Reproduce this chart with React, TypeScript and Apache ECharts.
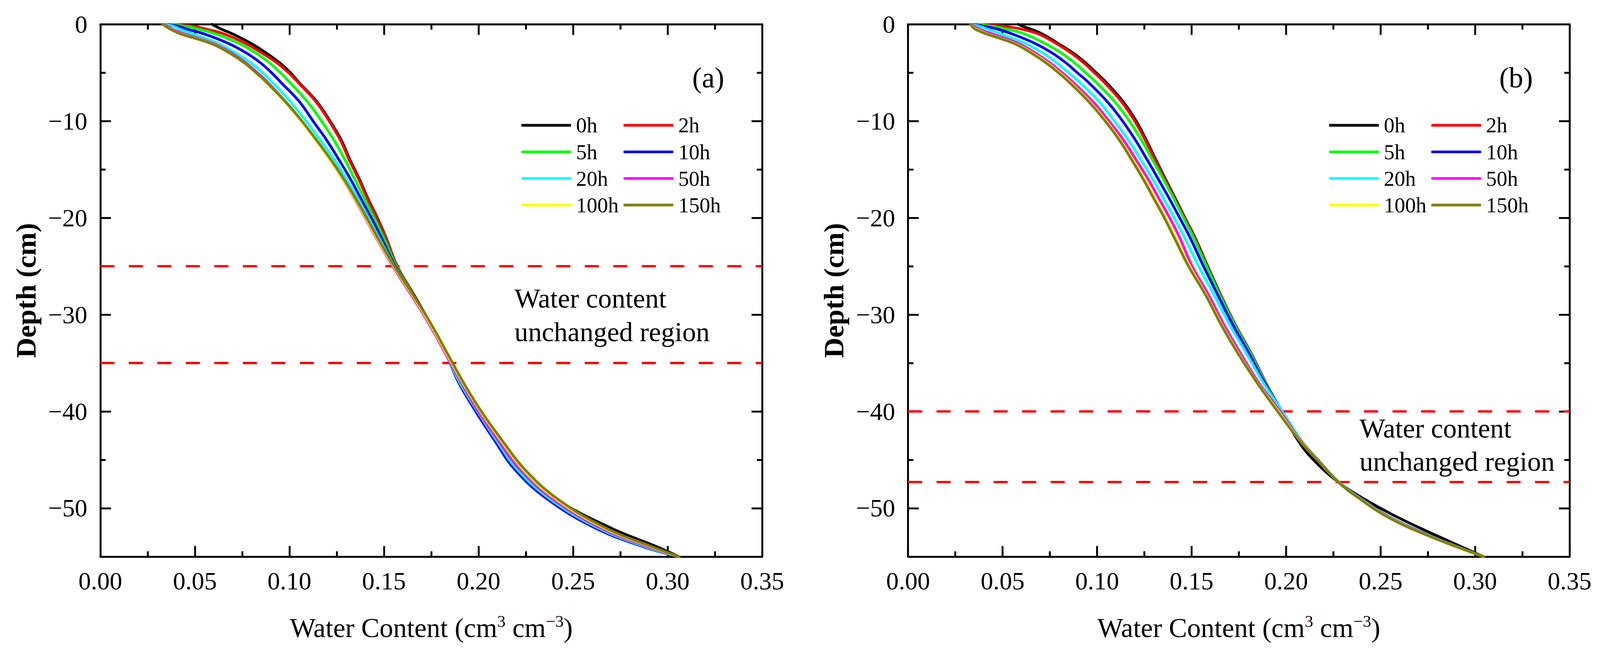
import React, { useEffect, useRef } from "react";
import * as echarts from "echarts";

// ---------- data ----------
const timeLabels = ["0h", "2h", "5h", "10h", "20h", "50h", "100h", "150h"];
const lineColors = ["#000000", "#ff0000", "#00ff00", "#0000ff", "#00ffff", "#ff00ff", "#ffff00", "#808000"];

// panel (a): depth (cm) and water content (cm3 cm-3)
const depthA = [0, -0.2, -0.5, -1, -2, -3, -4, -5, -6, -8, -10, -12, -14, -16, -18, -20, -22, -25, -28, -31, -34, -37, -40, -43, -46, -49, -52, -54, -55];
const a0h = [0.059, 0.061, 0.064, 0.07, 0.08, 0.088, 0.095, 0.1005, 0.105, 0.1145, 0.1215, 0.1275, 0.132, 0.137, 0.1415, 0.1465, 0.151, 0.157, 0.166, 0.1748, 0.1828, 0.1895, 0.199, 0.2095, 0.2215, 0.2405, 0.2695, 0.2945, 0.306];
const a2h = [0.034, 0.049, 0.056, 0.0655, 0.077, 0.0857, 0.0935, 0.0995, 0.1045, 0.114, 0.121, 0.127, 0.1316, 0.1366, 0.1412, 0.1462, 0.1508, 0.1568, 0.1657, 0.1746, 0.1829, 0.1903, 0.1988, 0.2088, 0.2195, 0.2363, 0.2618, 0.288, 0.306];
const a5h = [0.033, 0.045, 0.052, 0.061, 0.0735, 0.0825, 0.0895, 0.0952, 0.1002, 0.1095, 0.117, 0.1236, 0.1293, 0.1345, 0.1396, 0.1448, 0.1497, 0.1565, 0.1655, 0.1745, 0.1828, 0.19, 0.1987, 0.2087, 0.2193, 0.2362, 0.2616, 0.2878, 0.306];
const a10h = [0.033, 0.041, 0.046, 0.055, 0.068, 0.0775, 0.0848, 0.0905, 0.0955, 0.1053, 0.1125, 0.1198, 0.1262, 0.1323, 0.1378, 0.1433, 0.1485, 0.156, 0.1652, 0.1743, 0.1826, 0.1895, 0.1985, 0.2085, 0.2192, 0.236, 0.2613, 0.2875, 0.306];
const a20h = [0.033, 0.0385, 0.042, 0.049, 0.0625, 0.0718, 0.0797, 0.0857, 0.091, 0.1005, 0.1088, 0.1165, 0.1238, 0.1302, 0.1362, 0.1418, 0.1472, 0.1556, 0.1651, 0.1742, 0.1825, 0.19, 0.1995, 0.2095, 0.2205, 0.2375, 0.2628, 0.2885, 0.306];
const a50h = [0.033, 0.0355, 0.038, 0.0445, 0.06, 0.0695, 0.077, 0.083, 0.0885, 0.098, 0.1065, 0.1142, 0.1215, 0.1282, 0.1343, 0.1401, 0.1457, 0.1547, 0.1645, 0.174, 0.1825, 0.1908, 0.2, 0.2105, 0.222, 0.239, 0.2643, 0.2898, 0.306];
const a100h = [0.033, 0.0345, 0.0372, 0.0428, 0.059, 0.0686, 0.0762, 0.0822, 0.0878, 0.0976, 0.1062, 0.114, 0.1215, 0.1283, 0.1345, 0.1404, 0.146, 0.1551, 0.165, 0.1745, 0.183, 0.1915, 0.201, 0.2118, 0.2235, 0.2405, 0.2658, 0.2912, 0.306];
const a150h = [0.033, 0.0345, 0.037, 0.0425, 0.0588, 0.0686, 0.0763, 0.0824, 0.088, 0.0979, 0.1066, 0.1145, 0.122, 0.1288, 0.135, 0.1409, 0.1465, 0.1555, 0.1655, 0.175, 0.1835, 0.192, 0.2015, 0.2125, 0.2245, 0.2415, 0.2668, 0.292, 0.306];

// panel (b)
const depthB = [0, -0.2, -0.5, -1, -2, -3, -4, -5, -6, -8, -10, -12, -14, -16, -18, -20, -22, -25, -28, -31, -34, -37, -40, -43, -45, -47.3, -49, -51, -53, -55];
const b0h = [0.0583, 0.0605, 0.065, 0.071, 0.0795, 0.0875, 0.094, 0.0995, 0.1048, 0.1138, 0.1207, 0.1261, 0.1311, 0.1362, 0.1414, 0.1465, 0.1517, 0.1585, 0.1655, 0.173, 0.1815, 0.1892, 0.1975, 0.2063, 0.2145, 0.2276, 0.2409, 0.2597, 0.2816, 0.3045];
const b2h = [0.034, 0.05, 0.06, 0.069, 0.0785, 0.0865, 0.093, 0.0985, 0.1038, 0.1129, 0.1199, 0.1255, 0.1307, 0.1358, 0.141, 0.1462, 0.1514, 0.1582, 0.1653, 0.1728, 0.1813, 0.1891, 0.1978, 0.2072, 0.2165, 0.2277, 0.2393, 0.2555, 0.2782, 0.3045];
const b5h = [0.0331, 0.044, 0.052, 0.0616, 0.0725, 0.0813, 0.0881, 0.0939, 0.0995, 0.1093, 0.1171, 0.1235, 0.1293, 0.135, 0.1405, 0.1457, 0.1509, 0.1579, 0.165, 0.1726, 0.1811, 0.1889, 0.1978, 0.2075, 0.2167, 0.2278, 0.2395, 0.2555, 0.2782, 0.3045];
const b10h = [0.0331, 0.04, 0.0473, 0.0551, 0.0674, 0.0765, 0.0836, 0.0895, 0.0954, 0.1054, 0.1135, 0.1204, 0.1265, 0.1324, 0.1382, 0.1437, 0.1491, 0.1563, 0.1639, 0.1717, 0.1804, 0.1885, 0.198, 0.208, 0.2169, 0.2279, 0.2396, 0.2556, 0.2783, 0.3045];
const b20h = [0.0331, 0.0375, 0.042, 0.0492, 0.0623, 0.0714, 0.0787, 0.0849, 0.0908, 0.1011, 0.1092, 0.1167, 0.1232, 0.1294, 0.1352, 0.1408, 0.1462, 0.1537, 0.162, 0.17, 0.179, 0.1878, 0.198, 0.208, 0.2169, 0.2279, 0.2394, 0.2553, 0.2779, 0.3045];
const b50h = [0.0331, 0.035, 0.0375, 0.0445, 0.0586, 0.0676, 0.0752, 0.0815, 0.0873, 0.0978, 0.1063, 0.1141, 0.1206, 0.127, 0.1327, 0.1384, 0.1436, 0.1503, 0.1591, 0.167, 0.1759, 0.1854, 0.1968, 0.2076, 0.2167, 0.2277, 0.2391, 0.2549, 0.2776, 0.3045];
const b100h = [0.0331, 0.034, 0.036, 0.042, 0.0568, 0.066, 0.0737, 0.08, 0.0858, 0.0961, 0.1048, 0.1124, 0.1188, 0.125, 0.1306, 0.1362, 0.1413, 0.149, 0.1578, 0.1658, 0.1748, 0.1847, 0.196, 0.2073, 0.2165, 0.2276, 0.2389, 0.2547, 0.2774, 0.3045];
const b150h = [0.0331, 0.0338, 0.0355, 0.0415, 0.0563, 0.0654, 0.0731, 0.0795, 0.0853, 0.0956, 0.1043, 0.1119, 0.1183, 0.1244, 0.13, 0.1356, 0.1407, 0.1484, 0.1575, 0.1655, 0.1745, 0.1845, 0.1955, 0.2071, 0.2164, 0.2276, 0.2388, 0.2545, 0.2772, 0.3045];

const yMajorTicks = [0, -10, -20, -30, -40, -50];
const yMinorTicks = [-5, -15, -25, -35, -45];
const unchangedA = [-25, -35];
const unchangedB = [-40, -47.3];
const panelTags = ["(a)", "(b)"];
const regionText = "Water content\nunchanged region";
const legendCol1 = ["0h", "5h", "20h", "100h"];
const legendCol2 = ["2h", "10h", "50h", "150h"];

// ---------- layout (reference pixels, scaled to the real viewport) ----------
const W = 4211;
const H = 1719;
const FONT = "'Liberation Serif', 'Times New Roman', serif";
const PANEL_SHIFT = 2126;

function viewScale(): number {
  if (typeof window === "undefined") return 1;
  const w = window.innerWidth || W;
  const h = window.innerHeight || H;
  const s = Math.min(w / W, h / H);
  return s > 0 ? s : 1;
}

export default function App() {
  const ref = useRef<HTMLDivElement>(null);
  const s = viewScale();

  useEffect(() => {
    const P = (v: number) => v * s;
    const chart = echarts.init(ref.current as HTMLDivElement, null, { renderer: "svg", width: W * s, height: H * s });

    const tickLine = { color: "#000", width: P(5) };
    const grids = [
      { left: P(264), top: P(64), width: P(1742), height: P(1402) },
      { left: P(2390), top: P(64), width: P(1741), height: P(1402) },
    ];

    const xAxes: any[] = [];
    const yAxes: any[] = [];
    grids.forEach((_, g) => {
      const xCommon = {
        gridIndex: g,
        type: "value",
        min: 0,
        max: 0.35,
        interval: 0.05,
        splitLine: { show: false },
        minorSplitLine: { show: false },
        axisLine: { show: true, onZero: false, lineStyle: tickLine },
        axisTick: { show: true, inside: true, length: P(28), lineStyle: tickLine },
        minorTick: { show: true, splitNumber: 2, length: P(14), lineStyle: tickLine },
      };
      xAxes.push({
        ...xCommon,
        position: "bottom",
        axisLabel: {
          show: true,
          margin: P(31),
          fontFamily: FONT,
          fontSize: P(66),
          color: "#000",
          formatter: (v: number) => v.toFixed(2),
        },
        name: "Water Content (cm{sup|3} cm{sup|\u22123})",
        nameLocation: "middle",
        nameGap: P(148),
        nameTextStyle: {
          fontFamily: FONT,
          fontSize: P(72),
          color: "#000",
          lineHeight: P(80),
          rich: {
            sup: { fontFamily: FONT, fontSize: P(44), lineHeight: P(54), verticalAlign: "top", color: "#000" },
          },
        },
      });
      xAxes.push({ ...xCommon, position: "top", axisLabel: { show: false } });

      const yCommon = {
        gridIndex: g,
        type: "value",
        min: -55,
        max: 0,
        interval: 5,
        splitLine: { show: false },
      };
      yAxes.push({
        ...yCommon,
        position: "left",
        axisLine: { show: true, onZero: false, lineStyle: tickLine },
        axisTick: { show: true, inside: true, length: P(28), customValues: yMajorTicks, lineStyle: tickLine },
        axisLabel: {
          show: true,
          customValues: yMajorTicks,
          margin: P(34),
          fontFamily: FONT,
          fontSize: P(66),
          color: "#000",
          formatter: (v: number) => (v % 10 !== 0 ? "" : v === 0 ? "0" : "\u2212" + Math.abs(v)),
        },
        name: "Depth (cm)",
        nameLocation: "middle",
        nameGap: P(158),
        nameTextStyle: { fontFamily: FONT, fontSize: P(74), fontWeight: "bold", color: "#000" },
      });
      yAxes.push({
        ...yCommon,
        position: "right",
        axisLine: { show: true, onZero: false, lineStyle: tickLine },
        axisTick: { show: true, inside: true, length: P(28), customValues: yMajorTicks, lineStyle: tickLine },
        axisLabel: { show: false },
      });
      yAxes.push({
        ...yCommon,
        position: "left",
        axisLine: { show: false, onZero: false },
        axisTick: { show: true, inside: true, length: P(14), customValues: yMinorTicks, lineStyle: tickLine },
        axisLabel: { show: false },
      });
      yAxes.push({
        ...yCommon,
        position: "right",
        axisLine: { show: false, onZero: false },
        axisTick: { show: true, inside: true, length: P(14), customValues: yMinorTicks, lineStyle: tickLine },
        axisLabel: { show: false },
      });
    });

    const panels = [
      { depth: depthA, curves: [a0h, a2h, a5h, a10h, a20h, a50h, a100h, a150h], region: unchangedA },
      { depth: depthB, curves: [b0h, b2h, b5h, b10h, b20h, b50h, b100h, b150h], region: unchangedB },
    ];

    const series: any[] = [];
    panels.forEach((p, g) => {
      p.curves.forEach((xs, i) => {
        const ser: any = {
          type: "line",
          name: timeLabels[i],
          xAxisIndex: g * 2,
          yAxisIndex: g * 4,
          data: xs.map((x, k) => [x, p.depth[k]]),
          symbol: "none",
          showSymbol: false,
          smooth: 0.4,
          color: lineColors[i],
          itemStyle: { color: lineColors[i] },
          lineStyle: { color: lineColors[i], width: P(7), cap: "round", join: "round" },
          emphasis: { disabled: true },
          z: 3 + i,
        };
        if (i === 0) {
          ser.markLine = {
            silent: true,
            symbol: ["none", "none"],
            label: { show: false },
            emphasis: { disabled: true },
            lineStyle: { color: "#ff0000", width: P(6), type: [P(37), P(38)], opacity: 1 },
            data: p.region.map((v) => ({ yAxis: v })),
          };
        }
        series.push(ser);
      });
    });

    const legendBase = {
      orient: "vertical",
      top: P(302),
      itemWidth: P(131),
      itemHeight: P(7),
      itemGap: P(14),
      icon: "roundRect",
      selectedMode: false,
      padding: 0,
      textStyle: { fontFamily: FONT, fontSize: P(56), color: "#000", lineHeight: P(56), padding: [0, 0, 0, P(8)] },
    };
    const legends: any[] = [];
    [0, 1].forEach((g) => {
      legends.push({ ...legendBase, left: P(1372 + g * PANEL_SHIFT), data: legendCol1 });
      legends.push({ ...legendBase, left: P(1641 + g * PANEL_SHIFT), data: legendCol2 });
    });

    const tagStyle = (text: string) => ({
      fontFamily: FONT,
      fill: "#000",
      text,
      fontSize: P(76),
      align: "center",
      verticalAlign: "middle",
      textAlign: "center",
      textVerticalAlign: "middle",
    });
    const regionStyle = {
      fontFamily: FONT,
      fill: "#000",
      text: regionText,
      fontSize: P(72),
      lineHeight: P(88),
      align: "left",
      verticalAlign: "top",
      textAlign: "left",
      textVerticalAlign: "top",
    };
    const graphic: any[] = [
      { type: "text", x: P(1864), y: P(205), style: tagStyle(panelTags[0]) },
      { type: "text", x: P(1864 + PANEL_SHIFT), y: P(205), style: tagStyle(panelTags[1]) },
      { type: "text", x: P(1354), y: P(742), style: regionStyle },
      { type: "text", x: P(3578), y: P(1084), style: regionStyle },
    ];

    chart.setOption({
      animation: false,
      backgroundColor: "#ffffff",
      grid: grids.map((gr) => ({ ...gr, containLabel: false, outerBoundsMode: "none" })),
      xAxis: xAxes,
      yAxis: yAxes,
      legend: legends,
      series,
      graphic,
    });

    return () => {
      chart.dispose();
    };
  }, [s]);

  return (
    <div
      ref={ref}
      style={{ position: "fixed", left: 0, top: 0, width: W * s, height: H * s, background: "#ffffff" }}
    />
  );
}
